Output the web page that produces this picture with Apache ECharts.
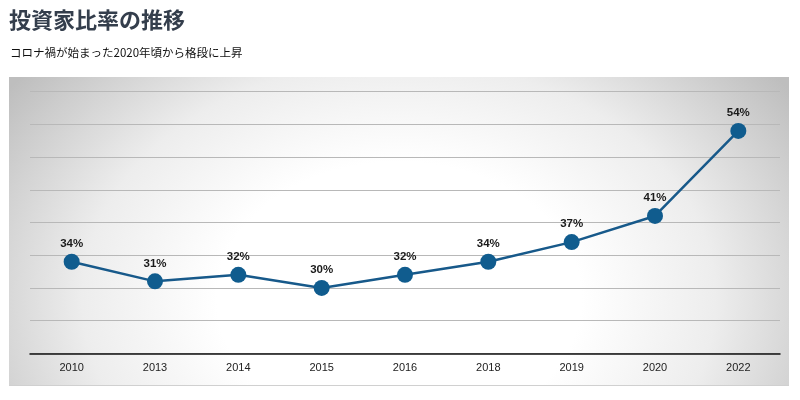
<!DOCTYPE html>
<html>
<head>
<meta charset="utf-8">
<script src="https://cdn.jsdelivr.net/npm/echarts@6/dist/echarts.min.js"></script>
<style>
html,body{margin:0;padding:0;background:#fff;}
#c{width:800px;height:400px;}
</style>
</head>
<body>
<div id="c"></div>
<script>
const titleText = '投資家比率の推移';
const subtitleText = 'コロナ禍が始まった2020年頃から格段に上昇';
const years = ['2010','2013','2014','2015','2016','2018','2019','2020','2022'];
const ratios = [34, 31, 32, 30, 32, 34, 37, 41, 54];

const chart = echarts.init(document.getElementById('c'));
const panel = {x: 9, y: 77, w: 780, h: 308};
const e = 0.75;
chart.setOption({
  animation: false,
  backgroundColor: '#ffffff',
  title: [
    {text: titleText, left: 9, top: 9, padding: 0, textStyle: {fontFamily: 'Noto Sans CJK JP', fontSize: 22, fontWeight: 'bold', color: '#343e4c'}},
    {text: subtitleText, left: 10, top: 47, padding: 0, textStyle: {fontFamily: 'Noto Sans CJK JP', fontSize: 11.5, fontWeight: 'normal', color: '#111'}}
  ],
  graphic: [
    {type: 'rect', z: -10, silent: true,
      shape: {x: panel.x, y: panel.y + 1, width: panel.w, height: panel.h},
      style: {fill: '#d0d0d0'}},
    {type: 'rect', z: -9, silent: true,
      x: panel.x, y: panel.y,
      scaleY: e,
      shape: {x: 0, y: 0, width: panel.w, height: panel.h / e},
      style: {fill: new echarts.graphic.RadialGradient(panel.w / 2, (panel.h * 0.72) / e, 480, [
        {offset: 0, color: '#ffffff'},
        {offset: 0.38, color: '#ffffff'},
        {offset: 0.66, color: '#ededed'},
        {offset: 1, color: '#bebebe'}
      ], true)}}
  ],
  grid: {left: 30, right: 20, top: 91.7, bottom: 46.7},
  xAxis: {
    type: 'category', data: years, boundaryGap: true,
    axisLine: {show: true, lineStyle: {color: '#111', width: 1.5}},
    axisTick: {show: false},
    axisLabel: {color: '#222', fontSize: 11, fontFamily: 'Liberation Sans', margin: 9}
  },
  yAxis: {
    type: 'value', min: 20, max: 60, interval: 5,
    axisLine: {show: false}, axisTick: {show: false}, axisLabel: {show: false},
    splitLine: {show: true, lineStyle: {color: '#b8b8b8', width: 1}}
  },
  series: [{
    type: 'line', data: ratios,
    symbol: 'circle', symbolSize: 16,
    lineStyle: {color: '#17598a', width: 2.5},
    itemStyle: {color: '#105c8e'},
    label: {show: true, position: 'top', distance: 4, formatter: '{c}%',
      color: '#1a1a1a', fontSize: 11.5, fontWeight: 'bold', fontFamily: 'Liberation Sans'}
  }]
});
</script>
</body>
</html>
